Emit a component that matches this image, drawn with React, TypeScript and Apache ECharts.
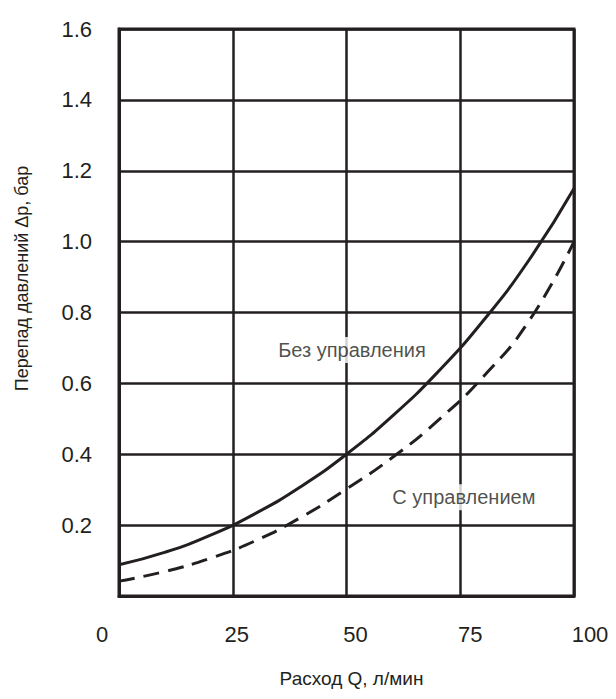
import React, { useEffect, useRef } from "react";
import * as echarts from "echarts";

// Flow Q, l/min vs pressure drop, bar
const flowQ = [0, 10, 20, 30, 40, 50, 60, 70, 80, 90, 100];
const withoutControl = [0.088, 0.123, 0.171, 0.233, 0.309, 0.4, 0.507, 0.631, 0.776, 0.946, 1.15];
const withControl = [0.042, 0.069, 0.106, 0.156, 0.222, 0.302, 0.39, 0.494, 0.618, 0.774, 1.0];
const xTickLabels = ["0", "25", "50", "75", "100"];
const seriesNames = ["Без управления", "С управлением"];
const labelAnchors: [number, number][] = [
  [51.2, 0.694],
  [75.8, 0.279],
];
const xTitle = "Расход Q, л/мин";
const yTitle = "Перепад давлений Δp, бар";

const INK = "#231f20";
const FONT = "'Liberation Sans', Arial, sans-serif";
const xLabelShift = [-17, 4, 9, 10, 16];

export default function App() {
  const ref = useRef<HTMLDivElement>(null);
  useEffect(() => {
    if (!ref.current) return;
    const chart = echarts.init(ref.current, undefined, { renderer: "svg" });
    const rich: Record<string, any> = {};
    xTickLabels.forEach((_, i) => {
      const s = xLabelShift[i];
      rich["p" + i] = {
        fontSize: 22,
        fontFamily: FONT,
        color: INK,
        padding: s >= 0 ? [0, 0, 0, 2 * s] : [0, -2 * s, 0, 0],
      };
    });
    chart.setOption({
      animation: false,
      backgroundColor: "#ffffff",
      grid: {
        left: 119,
        top: 29,
        width: 455,
        height: 567,
        show: true,
        borderColor: INK,
        borderWidth: 3,
        backgroundColor: "transparent",
      },
      xAxis: {
        type: "value",
        min: 0,
        max: 100,
        interval: 25,
        name: xTitle,
        nameLocation: "middle",
        nameGap: 73,
        nameTextStyle: { fontSize: 19, fontFamily: FONT, color: INK, padding: [0, 0, 0, 10] },
        axisLine: { show: true, lineStyle: { color: INK, width: 3 } },
        axisTick: { show: false },
        splitLine: { show: true, lineStyle: { color: INK, width: 2.5 } },
        axisLabel: {
          margin: 27,
          formatter: (v: number) => {
            const i = Math.round(v / 25);
            return "{p" + i + "|" + xTickLabels[i] + "}";
          },
          rich,
        },
      },
      yAxis: {
        type: "value",
        min: 0,
        max: 1.6,
        interval: 0.2,
        name: yTitle,
        nameLocation: "middle",
        nameGap: 88,
        nameTextStyle: { fontSize: 18, fontFamily: FONT, color: INK, padding: [0, 0, 0, 68] },
        axisLine: { show: true, lineStyle: { color: INK, width: 3 } },
        axisTick: { show: false },
        splitLine: { show: true, lineStyle: { color: INK, width: 2.5 } },
        axisLabel: {
          margin: 27,
          fontSize: 22,
          fontFamily: FONT,
          color: INK,
          formatter: (v: number) => (v === 0 ? "" : v.toFixed(1)),
        },
      },
      series: [
        {
          name: seriesNames[0],
          type: "line",
          data: flowQ.map((q, i) => [q, withoutControl[i]]),
          smooth: true,
          showSymbol: false,
          lineStyle: { color: INK, width: 3 },
          z: 3,
        },
        {
          name: seriesNames[1],
          type: "line",
          data: flowQ.map((q, i) => [q, withControl[i]]),
          smooth: true,
          showSymbol: false,
          lineStyle: { color: INK, width: 3, type: [16, 9] },
          z: 3,
        },
        {
          type: "scatter",
          symbolSize: 0,
          silent: true,
          z: 4,
          data: labelAnchors.map((p, i) => ({ value: p, name: seriesNames[i] })),
          label: {
            show: true,
            position: "inside",
            formatter: (p: any) => p.name,
            fontSize: 20,
            fontFamily: FONT,
            color: INK,
            backgroundColor: "#ffffff",
            padding: [3, 4, 3, 4],
          },
        },
      ],
    });
    return () => chart.dispose();
  }, []);
  return (
    <div
      ref={ref}
      style={{ position: "fixed", left: 0, top: 0, width: 616, height: 699, background: "#fff" }}
    />
  );
}
